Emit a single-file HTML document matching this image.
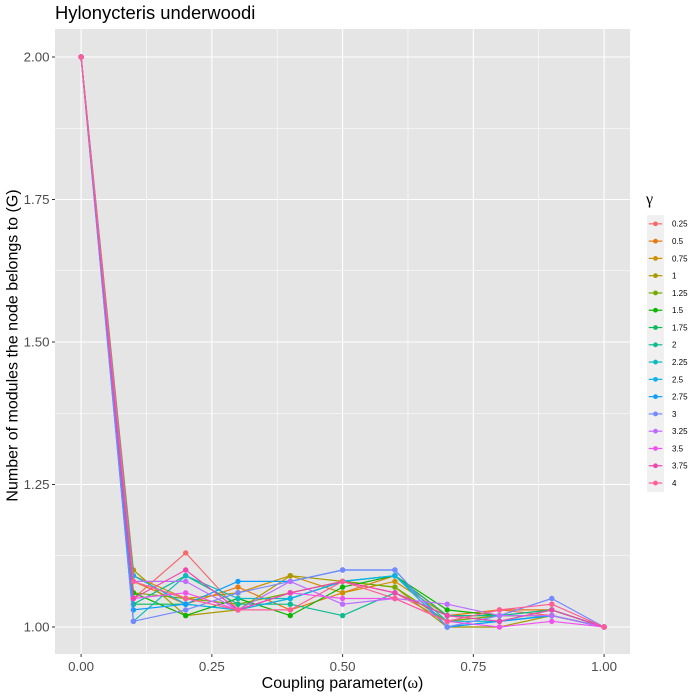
<!DOCTYPE html>
<html>
<head>
<meta charset="utf-8">
<title>Hylonycteris underwoodi</title>
<style>
html,body{margin:0;padding:0;background:#fff;width:700px;height:700px;overflow:hidden}
svg{display:block}
text{font-family:"Liberation Sans",sans-serif}
</style>
</head>
<body>
<svg id="chart" xmlns="http://www.w3.org/2000/svg" width="700" height="700" viewBox="0 0 700 700">
<rect x="0" y="0" width="700" height="700" fill="#ffffff"/>
<text x="55" y="19" font-size="18.4" fill="#000">Hylonycteris underwoodi</text>
<rect x="55" y="29" width="575" height="625" fill="#E5E5E5"/>
<g id="grid"></g>
<g id="axes"></g>
<g id="series"></g>
<text x="342.5" y="688" font-size="16" text-anchor="middle" fill="#000">Coupling parameter(<tspan font-family="Liberation Serif, serif">ω</tspan>)</text>
<text transform="translate(17.5,345.5) rotate(-90)" font-size="16" text-anchor="middle" fill="#000">Number of modules the node belongs to (G)</text>
<text x="646" y="204" font-size="16" fill="#000" style="font-family:'Liberation Serif',serif">γ</text>
<g id="legend"></g>
</svg>
<script>
const omega = [0, 0.1, 0.2, 0.3, 0.4, 0.5, 0.6, 0.7, 0.8, 0.9, 1];
const gammaLabels = ["0.25","0.5","0.75","1","1.25","1.5","1.75","2","2.25","2.5","2.75","3","3.25","3.5","3.75","4"];
const seriesColors = ["#F5696B","#E57A10","#CF9000","#A89A00","#76AA00","#0CB500","#0CBA60","#0CBC90","#0CBABF","#0CB2E8","#0C9EFF","#7488FF","#BE6CFF","#F052F0","#F045B0","#FF5C98"];
const g025 = [2, 1.05, 1.13, 1.03, 1.06, 1.08, 1.06, 1.01, 1.03, 1.02, 1];
const g050 = [2, 1.08, 1.04, 1.07, 1.03, 1.06, 1.09, 1.02, 1.03, 1.03, 1];
const g075 = [2, 1.09, 1.05, 1.06, 1.09, 1.06, 1.08, 1.02, 1.02, 1.02, 1];
const g100 = [2, 1.10, 1.02, 1.03, 1.09, 1.08, 1.07, 1.00, 1.00, 1.02, 1];
const g125 = [2, 1.06, 1.05, 1.04, 1.06, 1.08, 1.07, 1.01, 1.02, 1.03, 1];
const g150 = [2, 1.06, 1.02, 1.05, 1.02, 1.07, 1.09, 1.03, 1.02, 1.02, 1];
const g175 = [2, 1.04, 1.04, 1.03, 1.05, 1.08, 1.09, 1.02, 1.01, 1.03, 1];
const g200 = [2, 1.04, 1.09, 1.04, 1.04, 1.02, 1.06, 1.02, 1.02, 1.03, 1];
const g225 = [2, 1.01, 1.09, 1.05, 1.05, 1.08, 1.09, 1.01, 1.01, 1.02, 1];
const g250 = [2, 1.09, 1.04, 1.03, 1.05, 1.08, 1.09, 1.00, 1.01, 1.02, 1];
const g275 = [2, 1.03, 1.04, 1.08, 1.08, 1.10, 1.10, 1.00, 1.01, 1.02, 1];
const g300 = [2, 1.01, 1.03, 1.06, 1.08, 1.10, 1.10, 1.00, 1.02, 1.05, 1];
const g325 = [2, 1.08, 1.08, 1.03, 1.08, 1.04, 1.05, 1.04, 1.02, 1.02, 1];
const g350 = [2, 1.05, 1.06, 1.03, 1.06, 1.05, 1.05, 1.01, 1.00, 1.01, 1];
const g375 = [2, 1.05, 1.10, 1.03, 1.06, 1.08, 1.06, 1.02, 1.01, 1.03, 1];
const g400 = [2, 1.08, 1.05, 1.03, 1.03, 1.08, 1.05, 1.01, 1.03, 1.04, 1];
const seriesValues = [g025, g050, g075, g100, g125, g150, g175, g200, g225, g250, g275, g300, g325, g350, g375, g400];
const xTickValues = [0, 0.25, 0.5, 0.75, 1];
const xTickLabels = ["0.00","0.25","0.50","0.75","1.00"];
const xMinorValues = [0.125, 0.375, 0.625, 0.875];
const yTickValues = [1, 1.25, 1.5, 1.75, 2];
const yTickLabels = ["1.00","1.25","1.50","1.75","2.00"];
const yMinorValues = [1.125, 1.375, 1.625, 1.875];

const NS = "http://www.w3.org/2000/svg";
const panel = {left: 55, right: 630, top: 29, bottom: 654};
function xScale(v) { return 81.1 + v * 523; }
function yScale(v) { return 627 - (v - 1) * 570; }
function make(tag, attrs, parent) {
  const el = document.createElementNS(NS, tag);
  for (const k in attrs) el.setAttribute(k, attrs[k]);
  parent.appendChild(el);
  return el;
}
const grid = document.getElementById("grid");
const axes = document.getElementById("axes");
const seriesGroup = document.getElementById("series");
const legend = document.getElementById("legend");

yMinorValues.forEach(function (v) {
  const el = make("line", {x1: panel.left, x2: panel.right, y1: yScale(v), y2: yScale(v), stroke: "#fff", "stroke-width": 0.55}, grid);
  
  
});
xMinorValues.forEach(function (v) {
  const el = make("line", {x1: xScale(v), x2: xScale(v), y1: panel.top, y2: panel.bottom, stroke: "#fff", "stroke-width": 0.55}, grid);
  
  
});
yTickValues.forEach(function (v, i) {
  const gl = make("line", {x1: panel.left, x2: panel.right, y1: yScale(v), y2: yScale(v), stroke: "#fff", "stroke-width": 1.1}, grid);
  
  
  const tick = make("line", {x1: panel.left - 3, x2: panel.left, y1: yScale(v), y2: yScale(v), stroke: "#333", "stroke-width": 1}, axes);
  
  
  const label = make("text", {x: panel.left - 5.5, y: yScale(v) + 4.7, "font-size": 13.3, "text-anchor": "end", fill: "#4D4D4D"}, axes);
  
  
  label.textContent = yTickLabels[i];
});
xTickValues.forEach(function (v, i) {
  const gl = make("line", {x1: xScale(v), x2: xScale(v), y1: panel.top, y2: panel.bottom, stroke: "#fff", "stroke-width": 1.1}, grid);
  
  
  const tick = make("line", {x1: xScale(v), x2: xScale(v), y1: panel.bottom, y2: panel.bottom + 3, stroke: "#333", "stroke-width": 1}, axes);
  
  
  const label = make("text", {x: xScale(v), y: panel.bottom + 17, "font-size": 13.3, "text-anchor": "middle", fill: "#4D4D4D"}, axes);
  
  
  label.textContent = xTickLabels[i];
});

seriesValues.forEach(function (vals, s) {
  const g = make("g", {}, seriesGroup);
  
  
  const pts = vals.map(function (v, i) { return xScale(omega[i]).toFixed(2) + "," + yScale(v).toFixed(2); }).join(" ");
  const line = make("polyline", {points: pts, fill: "none", stroke: seriesColors[s], "stroke-width": 1.2, "stroke-linejoin": "round"}, g);
  
  
  vals.forEach(function (v, i) {
    const p = make("circle", {cx: xScale(omega[i]), cy: yScale(v), r: 2.7, fill: seriesColors[s]}, g);
    
    
  });
});

const keyHeight = 17.28, keyTop = 215.2, keyLeft = 647, keyWidth = 17;
gammaLabels.forEach(function (lab, i) {
  const cy = keyTop + keyHeight * (i + 0.5);
  const g = make("g", {}, legend);
  
  
  const bg = make("rect", {x: keyLeft, y: keyTop + keyHeight * i, width: keyWidth, height: keyHeight + 0.2, fill: "#F0F0F0"}, g);
  
  
  const ln = make("line", {x1: keyLeft + 1.7, x2: keyLeft + keyWidth - 1.7, y1: cy, y2: cy, stroke: seriesColors[i], "stroke-width": 1.2}, g);
  
  
  const dot = make("circle", {cx: keyLeft + keyWidth / 2, cy: cy, r: 2.4, fill: seriesColors[i]}, g);
  
  
  const t = make("text", {x: 672, y: cy + 2.9, "font-size": 8, fill: "#000"}, g);
  
  
  t.textContent = lab;
});
</script>
</body>
</html>
